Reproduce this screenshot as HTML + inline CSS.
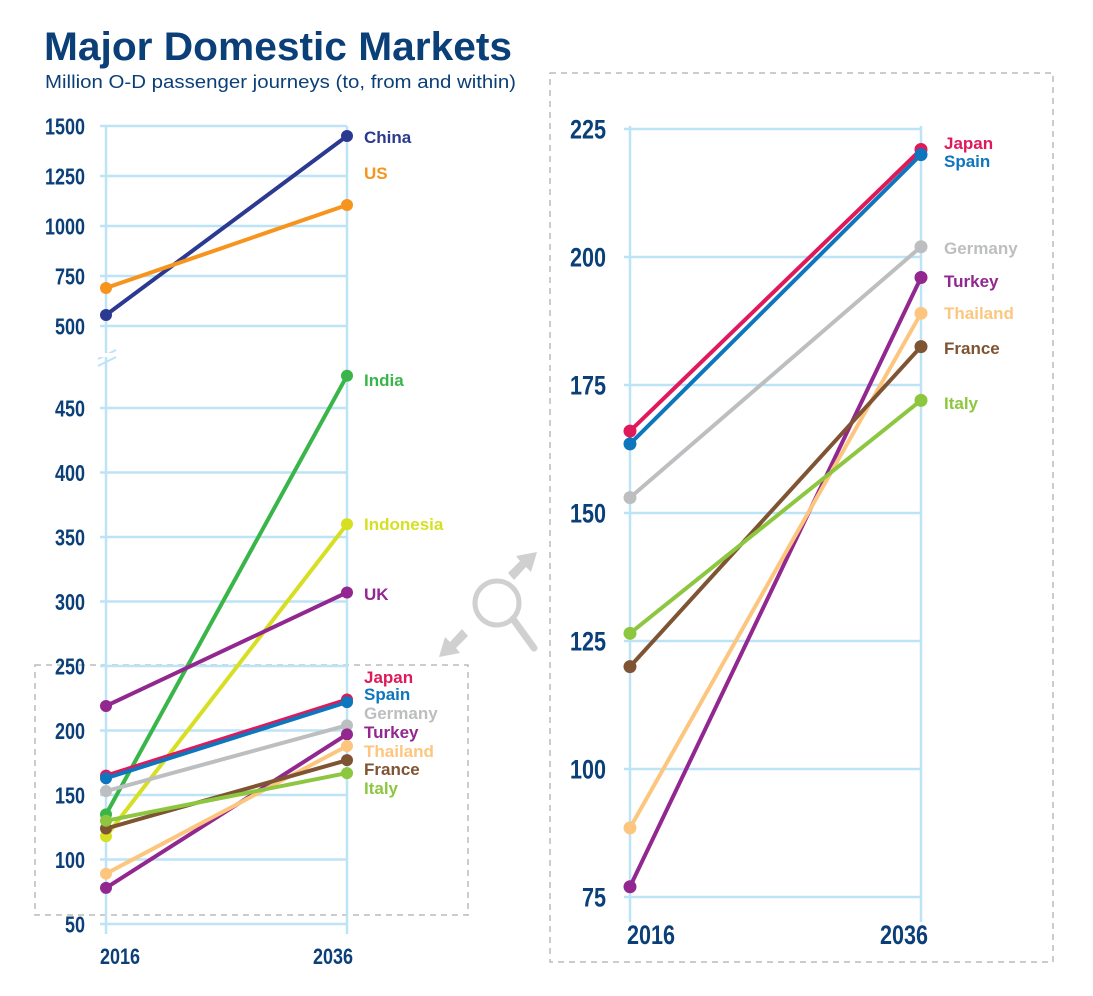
<!DOCTYPE html>
<html><head><meta charset="utf-8"><style>
body{margin:0;background:#fff;}
svg text{font-family:"Liberation Sans",sans-serif;}
.tick{fill:#0b3f78;font-size:22px;font-weight:bold;}
.lab{font-weight:bold;font-size:17px;}
</style></head><body>
<svg id="c" width="1093" height="991" viewBox="0 0 1093 991">
<text x="44" y="60" fill="#0b3f78" textLength="468" lengthAdjust="spacingAndGlyphs" style="font-weight:bold;font-size:40px">Major Domestic Markets</text>
<text x="45" y="88" fill="#0b3f78" textLength="471" lengthAdjust="spacingAndGlyphs" style="font-size:18px">Million O-D passenger journeys (to, from and within)</text>
<rect x="35" y="665" width="433" height="250" fill="none" stroke="#bbb" stroke-width="1.5" stroke-dasharray="6,5"/>
<rect x="550" y="73" width="503" height="889" fill="none" stroke="#bbb" stroke-width="1.5" stroke-dasharray="6,5"/>
<g fill="#d0d0d0">
<circle cx="497" cy="603" r="22" fill="none" stroke="#d0d0d0" stroke-width="5"/>
<line x1="513" y1="619" x2="534" y2="648" stroke="#d0d0d0" stroke-width="7" stroke-linecap="round"/>
<polygon points="537,552 516,556 520,561 508,573 514,580 526,567 531,572"/>
<polygon points="439,657 460,653 456,648 468,636 462,629 450,642 445,637"/>
</g>
<g id="left"></g><g id="right"></g>
</svg>
<script>
const names=["China","US","India","Indonesia","UK","Japan","Spain","Germany","Turkey","Thailand","France","Italy"];
const colors=["#2b3990","#f7941d","#39b54a","#d7df23","#92278f","#e0195a","#0e76bc","#bcbec0","#92278f","#fdc67f","#7f5433","#8dc63f"];
const v2016=[555,690,135,118,219,165,163,153,78,89,124,130];
const v2036=[1450,1105,475,360,307,224,222,204,197,188,177,167];
const leftLabelY=[137,173,380,524,594,677,694,713,732,751,769,788];
const upperTicks=[1500,1250,1000,750,500];
const lowerTicks=[450,400,350,300,250,200,150,100,50];
const rNames=["Japan","Spain","Germany","Turkey","Thailand","France","Italy"];
const rColors=["#e0195a","#0e76bc","#bcbec0","#92278f","#fdc67f","#7f5433","#8dc63f"];
const r2016=[166,163.5,153,77,88.5,120,126.5];
const r2036=[221,220,202,196,189,182.5,172];
const rLabelY=[143,161,248,281,313,348,403];
const rTicks=[225,200,175,150,125,100,75];
const NS="http://www.w3.org/2000/svg";
function mk(p,t,a){const e=document.createElementNS(NS,t);for(const k in a)e.setAttribute(k,a[k]);p.appendChild(e);return e;}
function yL(v){return v>=500?326-(v-500)*50/250:408+(450-v)*64.5/50;}
function yR(v){return 129+(225-v)*128/25;}
const L=document.getElementById('left'),R=document.getElementById('right');
const grid="#bde3f7";
function axis(g,ticks,yf,x1,x2,tx,fs,cw){
 ticks.forEach(t=>{const y=yf(t);
  const l=mk(g,'line',{x1:x1-6,x2:x2,y1:y,y2:y,stroke:grid,'stroke-width':2.5});
  
  
  const str=String(t);
  const s=mk(g,'text',{x:tx-str.length*cw,y:y+fs*0.36,class:'tick',style:'font-size:'+fs+'px',textLength:str.length*cw,lengthAdjust:'spacingAndGlyphs'});s.textContent=str;
  
  });
}
// left
axis(L,upperTicks,yL,106,347,85,23,10);
axis(L,lowerTicks,yL,106,347,85,23,10);
[106,347].forEach((x,i)=>{const l=mk(L,'line',{x1:x,x2:x,y1:126,y2:934,stroke:grid,'stroke-width':2.5});
 
 });
const br=mk(L,'path',{d:'M98,359 L116,350 M98,366 L116,357',stroke:grid,'stroke-width':2,fill:'none'});


mk(L,'rect',{x:99,y:353,width:14,height:4,fill:'#fff'});
[["2016",100],["2036",313]].forEach(([t,x])=>{const s=mk(L,'text',{x:x,y:964,class:'tick',textLength:40,lengthAdjust:'spacingAndGlyphs'});s.textContent=t;
 
 });
names.forEach((n,i)=>{const g=mk(L,'g',{});
 
 
 const a=yL(v2016[i]),b=yL(v2036[i]);
 mk(g,'line',{x1:106,y1:a,x2:347,y2:b,stroke:colors[i],'stroke-width':4});
 mk(g,'circle',{cx:106,cy:a,r:6,fill:colors[i]});mk(g,'circle',{cx:347,cy:b,r:6,fill:colors[i]});
 const s=mk(g,'text',{x:364,y:leftLabelY[i]+6,fill:colors[i],class:'lab'});s.textContent=n;});
// right
axis(R,rTicks,yR,630,921,606,27,12);
[630,921].forEach((x,i)=>{const l=mk(R,'line',{x1:x,x2:x,y1:126,y2:922,stroke:grid,'stroke-width':2.5});
 
 });
[["2016",627],["2036",880]].forEach(([t,x])=>{const s=mk(R,'text',{x:x,y:944,class:'tick',style:'font-size:27px',textLength:48,lengthAdjust:'spacingAndGlyphs'});s.textContent=t;
 
 });
rNames.forEach((n,i)=>{const g=mk(R,'g',{});
 
 
 const a=yR(r2016[i]),b=yR(r2036[i]);
 mk(g,'line',{x1:630,y1:a,x2:921,y2:b,stroke:rColors[i],'stroke-width':4});
 mk(g,'circle',{cx:630,cy:a,r:6.5,fill:rColors[i]});mk(g,'circle',{cx:921,cy:b,r:6.5,fill:rColors[i]});
 const s=mk(g,'text',{x:944,y:rLabelY[i]+6,fill:rColors[i],class:'lab'});s.textContent=n;});
</script>
</body></html>
